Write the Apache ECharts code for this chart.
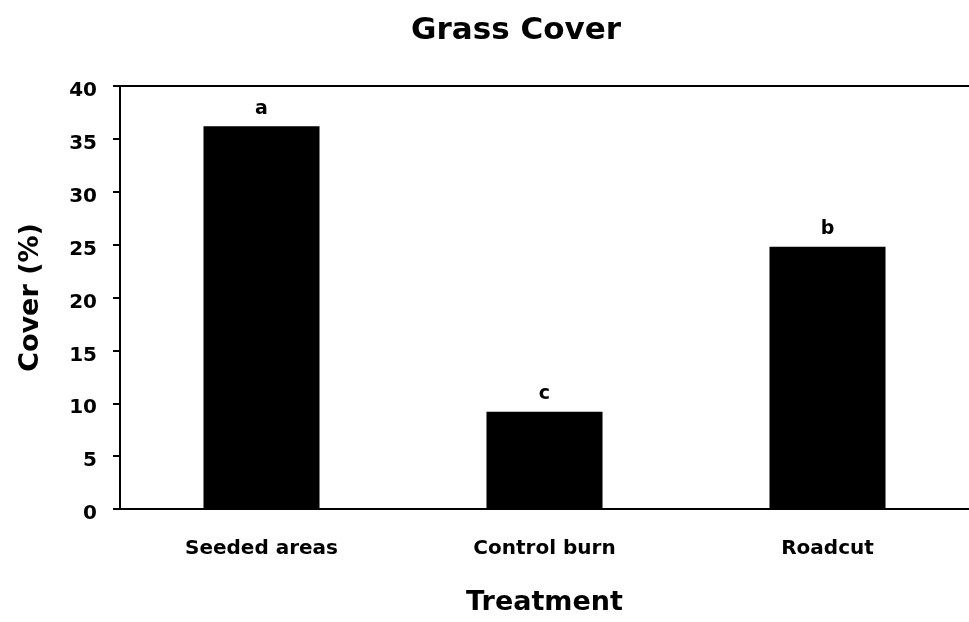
<!DOCTYPE html>
<html>
<head>
<meta charset="utf-8">
<script src="https://cdn.jsdelivr.net/npm/echarts@6/dist/echarts.min.js"></script>
<style>
  html, body { margin: 0; padding: 0; background: #fff; }
  #chart { width: 969px; height: 622px; }
</style>
</head>
<body>
<div id="chart"></div>
<script>
const treatments = ['Seeded areas', 'Control burn', 'Roadcut']
const cover = [36.2, 9.2, 24.8]
const groupLetters = ['a', 'c', 'b']
const yTicks = { min: 0, max: 40, interval: 5 }

const font = 'DejaVu Sans'
const chart = echarts.init(document.getElementById('chart'))

chart.setOption({
  animation: false,
  backgroundColor: '#fff',
  title: {
    text: 'Grass Cover',
    left: 511,
    top: 10,
    textAlign: 'center',
    textStyle: { fontFamily: font, fontWeight: 'bold', fontSize: 31, color: '#000' }
  },
  grid: {
    left: 120,
    right: 0,
    top: 86,
    bottom: 113
  },
  xAxis: [
    {
      type: 'category',
      data: treatments,
      name: 'Treatment',
      nameLocation: 'middle',
      nameGap: 80,
      nameTextStyle: { fontFamily: font, fontWeight: 'bold', fontSize: 27, color: '#000' },
      axisLine: { lineStyle: { color: '#000', width: 2 } },
      axisTick: { length: 7, lineStyle: { color: '#000', width: 2 } },
      axisLabel: { margin: 30, fontFamily: font, fontWeight: 'bold', fontSize: 20, color: '#000' }
    },
    {
      // top frame line only
      type: 'category',
      data: treatments,
      position: 'top',
      axisLine: { lineStyle: { color: '#000', width: 2 } },
      axisTick: { show: false },
      axisLabel: { show: false }
    }
  ],
  yAxis: {
    type: 'value',
    min: yTicks.min,
    max: yTicks.max,
    interval: yTicks.interval,
    name: 'Cover (%)',
    nameLocation: 'middle',
    nameGap: 76,
    nameTextStyle: { fontFamily: font, fontWeight: 'bold', fontSize: 27, color: '#000' },
    axisLine: { show: true, lineStyle: { color: '#000', width: 2 } },
    axisTick: { show: true, length: 7, lineStyle: { color: '#000', width: 2 } },
    axisLabel: {
      margin: 23,
      verticalAlign: 'top',
      lineHeight: 10,
      fontFamily: font,
      fontWeight: 'bold',
      fontSize: 20,
      color: '#000'
    },
    splitLine: { show: false }
  },
  series: [
    {
      type: 'bar',
      data: cover,
      barWidth: '41%',
      itemStyle: { color: '#000' },
      label: {
        show: true,
        position: 'top',
        distance: 8,
        formatter: (p) => groupLetters[p.dataIndex],
        fontFamily: font,
        fontWeight: 'bold',
        fontSize: 19,
        color: '#000'
      }
    }
  ]
})
</script>
</body>
</html>
